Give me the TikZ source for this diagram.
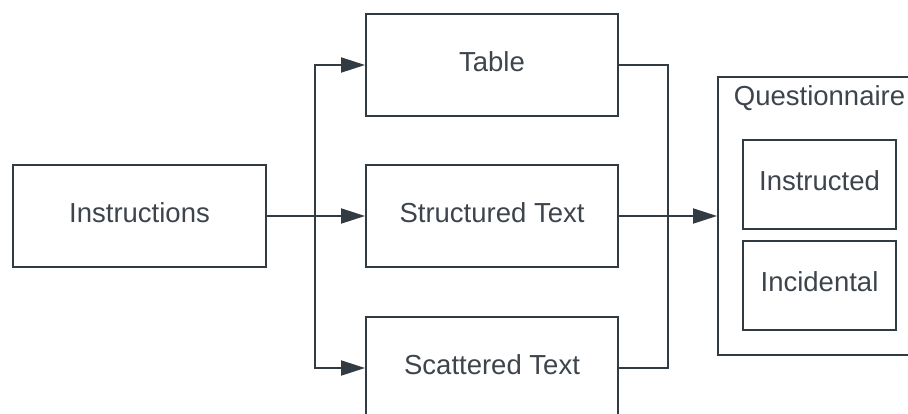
\documentclass[tikz,border=0pt]{standalone}
\usepackage{fontspec}
\setmainfont{Liberation Sans}
\usepackage{tikz}
\usetikzlibrary{calc}
\usetikzlibrary{arrows.meta}

\definecolor{linegray}{HTML}{333B42}
\definecolor{textgray}{HTML}{3D444C}

\begin{document}
\begin{tikzpicture}[x=0.5pt, y=-0.5pt,
        box/.style={rectangle, draw=linegray, line width=1pt, text=textgray,
            font=\fontsize{13.75pt}{16pt}\selectfont, text depth=3.5pt,
            minimum width=126pt, minimum height=51pt, inner sep=0pt},
        arr/.style={draw=linegray, line width=1pt, -{Triangle[length=12pt, width=7.5pt]}},
        link/.style={draw=linegray, line width=1pt}]
            \path[use as bounding box, clip] (0, 0) rectangle (908, 413);
            \node[box, minimum width=126.5pt] (instr) at (139.5, 216) {Instructions};
            \def\B{table/65/Table, struct/216/Structured Text, scat/368/Scattered Text}
            \foreach \n/\y/\t in \B
            {
                \node[box] (\n) at (492, \y) {\t};
            }
            \node[box, minimum width=101.5pt, minimum height=139pt] (quest) at (819.5, 216) {};
            \node[text=textgray, font=\fontsize{13.75pt}{16pt}\selectfont] (qlabel) at (819.5, 98) {Questionnaire};
            \node[box, minimum width=76.5pt, minimum height=44.5pt] (instructed) at (819.5, 184.5) {Instructed};
            \node[box, minimum width=76.5pt, minimum height=44.5pt] (incidental) at (819.5, 285.5) {Incidental};
            \coordinate (split) at (315, 216);
            \coordinate (merge) at (668, 216);
            \draw[arr] (instr) -- (struct);
            \draw[arr] (split) |- (table);
            \draw[arr] (split) |- (scat);
            \draw[link] (table.east) -| (merge);
            \draw[link] (scat.east) -| (merge);
            \draw[arr] (struct) -- (quest);
        \end{tikzpicture}
\end{document}
